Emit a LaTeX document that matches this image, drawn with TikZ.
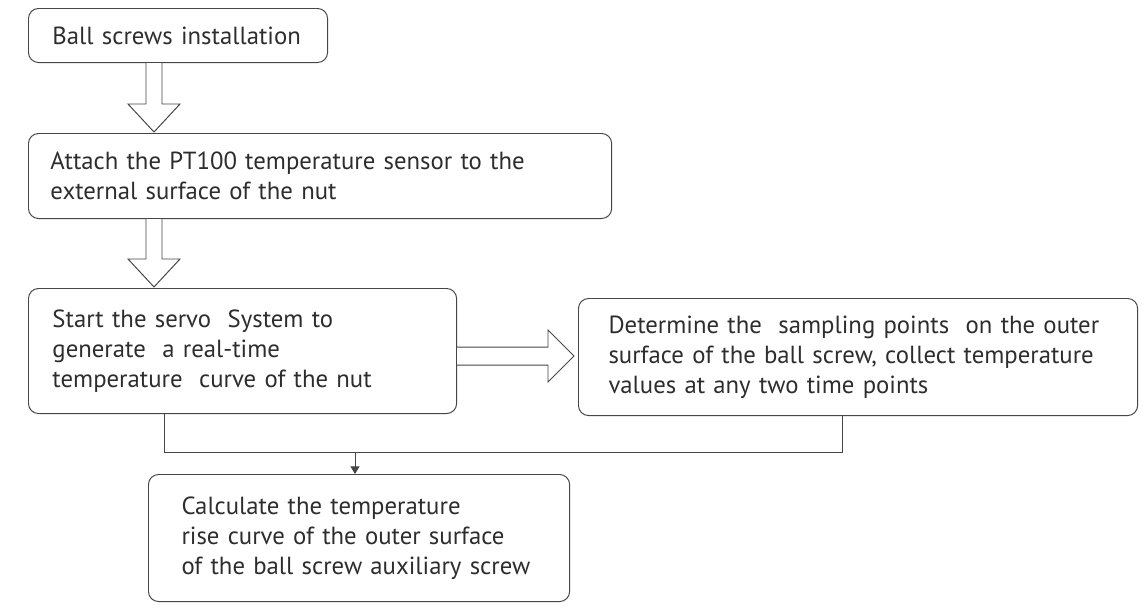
\documentclass[tikz,border=0pt]{standalone}
\usepackage{fontspec}
\setmainfont{PT Sans}
\usepackage{xcolor}
\definecolor{boxline}{RGB}{70, 70, 70}
\definecolor{boxtext}{RGB}{45, 45, 45}
\usetikzlibrary{positioning, calc, arrows.meta}

\begin{document}
\begin{tikzpicture}[x=0.025cm, y=-0.025cm, >={Triangle[length=5.5pt, width=6.5pt]},
    every node/.style={font=\fontsize{17.6}{21.3}\selectfont, text=boxtext},
    stepbox/.style={draw=boxline, line width=0.7pt, rounded corners=0.25cm, align=left, anchor=north west, inner ysep=0pt},
    hollow/.style={draw=boxline, line width=0.7pt, fill=white, line join=miter},
    link/.style={draw=boxline, line width=0.7pt}]
    \useasboundingbox (0,0) rectangle (1145,607);

    % process boxes
    \node [stepbox, inner xsep=0.6cm, text width=6.275cm, minimum height=1.35cm] (install) at (28,8) {Ball screws installation};
    \node [stepbox, inner xsep=0.55cm, text width=13.475cm, minimum height=2.125cm] (attach) at (28,133) {Attach the PT100 temperature sensor to the\\external surface of the nut};
    \node [stepbox, inner xsep=0.6cm, text width=9.5cm, minimum height=3.125cm] (servo) at (28,288) {Start the servo \ System to\\generate \ a real-time\\temperature \ curve of the nut};
    \node [stepbox, inner xsep=0.75cm, text width=12.475cm, minimum height=2.925cm] (sample) at (578,298) {Determine the \ sampling points \ on the outer\\surface of the ball screw, collect temperature\\values at any two time points};
    \node [stepbox, inner xsep=0.825cm, text width=8.875cm, minimum height=3.175cm] (calc) at (148,474) {Calculate the temperature\\rise curve of the outer surface\\of the ball screw auxiliary screw};

    % hollow block arrows
    \coordinate (d1a) at ($(install.south west)+(126,0)$);
    \coordinate (d1b) at ($(attach.north west)+(126,-1)$);
    \draw [hollow] ($(d1a)+(-8,0)$) -- ($(d1b)+(-8,-28)$) -- ($(d1b)+(-26,-28)$) -- (d1b) -- ($(d1b)+(26,-28)$) -- ($(d1b)+(8,-28)$) -- ($(d1a)+(8,0)$);

    \coordinate (d2a) at ($(attach.south west)+(126,0)$);
    \coordinate (d2b) at ($(servo.north west)+(126,-1)$);
    \draw [hollow] ($(d2a)+(-8,0)$) -- ($(d2b)+(-8,-28)$) -- ($(d2b)+(-26,-28)$) -- (d2b) -- ($(d2b)+(26,-28)$) -- ($(d2b)+(8,-28)$) -- ($(d2a)+(8,0)$);

    \coordinate (r1a) at ($(servo.north east)+(0,68)$);
    \coordinate (r1b) at ($(sample.north west)+(-4,58)$);
    \draw [hollow] ($(r1a)+(0,-9)$) -- ($(r1b)+(-26,-9)$) -- ($(r1b)+(-26,-26)$) -- (r1b) -- ($(r1b)+(-26,26)$) -- ($(r1b)+(-26,9)$) -- ($(r1a)+(0,9)$);

    % merge line into last step
    \coordinate (mleft) at ($(servo.south west)+(136,0)$);
    \coordinate (mright) at ($(sample.south west)+(264,0)$);
    \coordinate (mdown) at ($(calc.north west)+(207,0)$);
    \draw [link] (mleft) -- (mleft |- 0,452) -- (mright |- 0,452) -- (mright);
    \draw [link, ->] (mdown |- 0,452) -- (mdown);
\end{tikzpicture}
\end{document}
